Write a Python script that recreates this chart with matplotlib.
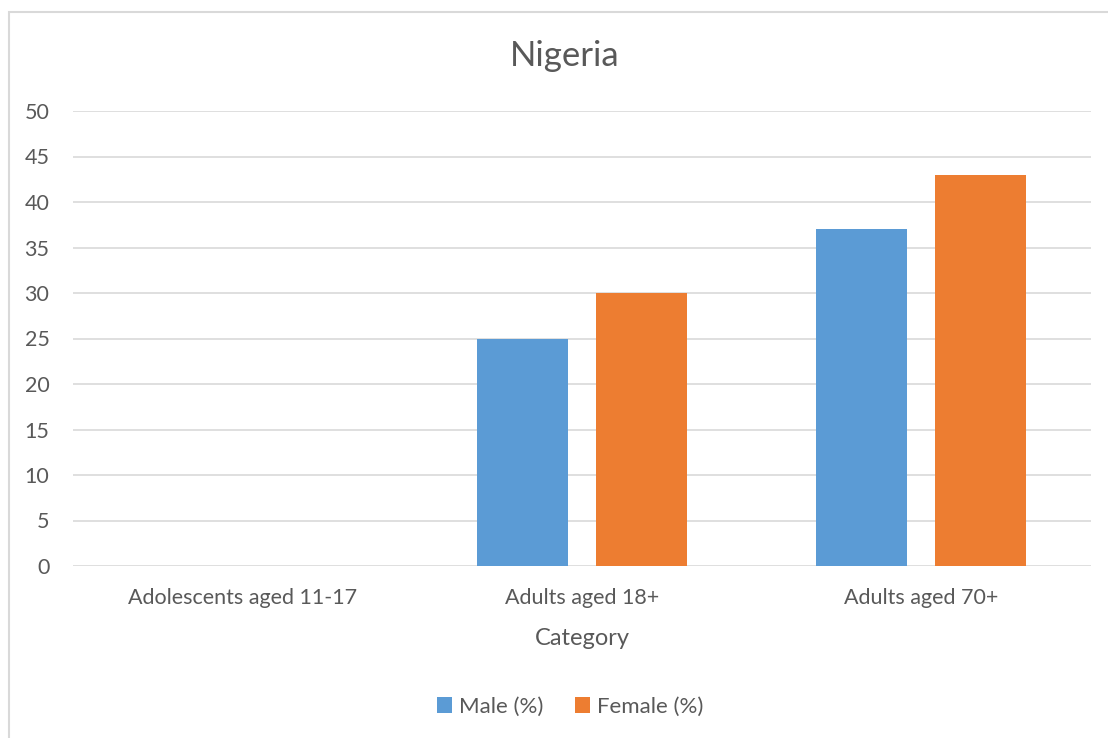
import matplotlib
matplotlib.use("Agg")
import matplotlib.pyplot as plt
import numpy as np
from matplotlib.patches import Rectangle

plt.rcParams["font.family"] = ["Lato", "DejaVu Sans"]

categories = ["Adolescents aged 11-17", "Adults aged 18+", "Adults aged 70+"]
male = [0, 25, 37]
female = [0, 30, 43]

BLUE = "#5B9BD5"
ORANGE = "#ED7D31"
TXT = "#595959"
GRID = "#D9D9D9"

fig = plt.figure(figsize=(11.08, 7.38), dpi=100)
# chart frame, open at right and bottom edges
fig.add_artist(Rectangle((9 / 1108, -0.05), 1.2, (738 - 12) / 738 + 0.05,
                         transform=fig.transFigure, facecolor="none",
                         edgecolor=GRID, linewidth=1.5))

ax = fig.add_axes([73 / 1108, 172 / 738, 1018 / 1108, 455 / 738])
x = np.arange(len(categories))
w = 0.268
gap = 0.083
ax.bar(x - (w + gap) / 2, male, w, color=BLUE, label="Male (%)", zorder=3)
ax.bar(x + (w + gap) / 2, female, w, color=ORANGE, label="Female (%)", zorder=3)

ax.set_xlim(-0.5, len(categories) - 0.5)
ax.set_ylim(0, 50)
ax.set_yticks(range(0, 51, 5))
ax.set_xticks(x)
ax.set_xticklabels(categories)
ax.grid(axis="y", color=GRID, linewidth=1.2, zorder=0)
for s in ax.spines.values():
    s.set_visible(False)
ax.tick_params(length=0, labelsize=15.5, colors=TXT)
ax.tick_params(axis="y", pad=17)
ax.tick_params(axis="x", pad=16)

ax.set_xlabel("Category", fontsize=17, color=TXT, labelpad=14)
fig.text(565 / 1108, 1 - 56 / 738, "Nigeria", fontsize=25, color=TXT,
         ha="center", va="center")

ax.legend(loc="center", bbox_to_anchor=(570 / 1108, 1 - 707 / 738),
          bbox_transform=fig.transFigure, ncol=2, frameon=False,
          fontsize=16, labelcolor=TXT, handlelength=0.7, handleheight=0.7,
          handletextpad=0.3, columnspacing=1.4)

fig.savefig("out.png", dpi=100, facecolor="white")
